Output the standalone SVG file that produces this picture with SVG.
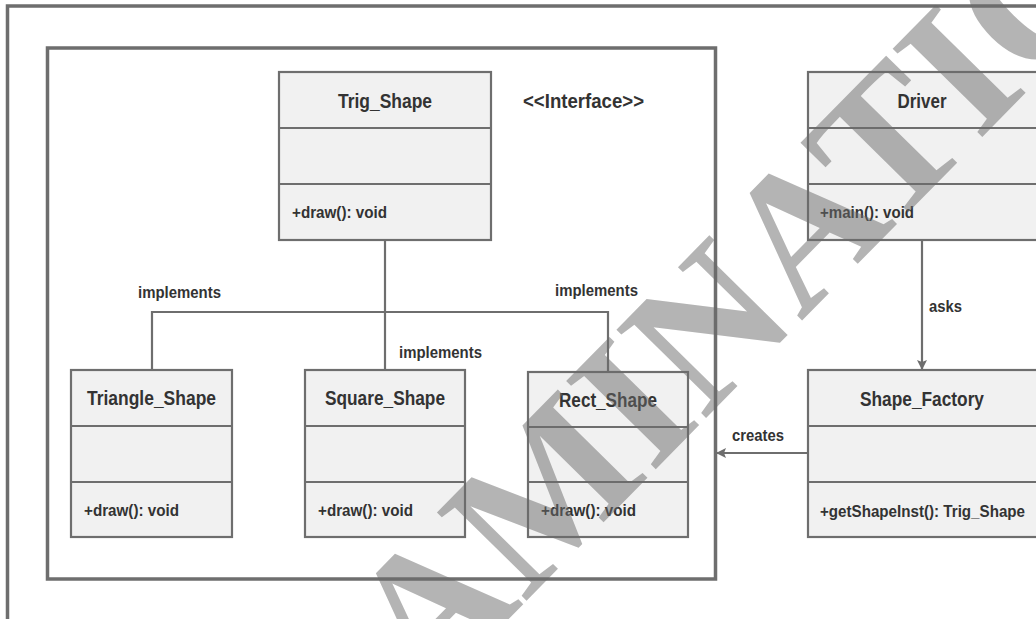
<svg xmlns="http://www.w3.org/2000/svg" width="1036" height="619" viewBox="0 0 1036 619">
<defs>
<style>
.frame{fill:none;stroke:#6e6e6e;stroke-width:3.5}
.box{fill:#f1f1f1;stroke:#6e6e6e;stroke-width:2.2}
.div{stroke:#6e6e6e;stroke-width:2.2}
.t{font-family:"Liberation Sans",Arial,sans-serif;font-weight:bold;fill:#333333}
.title{font-size:19.5px}
.m{font-size:16px}
.lbl{font-size:16px}
.conn{fill:none;stroke:#6e6e6e;stroke-width:2.2}
.wm{font-family:"Liberation Serif","Times New Roman",serif;font-weight:bold;font-size:192px;fill:#6a6a6a;fill-opacity:0.5}
</style>
<marker id="arr" viewBox="0 0 10 10" refX="9" refY="5" markerWidth="10" markerHeight="10" markerUnits="userSpaceOnUse" orient="auto">
<path d="M0,0 L10,5 L0,10 L2,5 Z" fill="#6e6e6e"/>
</marker>
</defs>
<rect width="1036" height="619" fill="#ffffff"/>
<g id="outer-frame"><rect class="frame" x="7.5" y="6" width="1060" height="700"/></g>
<g id="interface-frame"><rect class="frame" x="47.5" y="48" width="668" height="531"/>
<text class="t title" x="523" y="108" textLength="121" lengthAdjust="spacingAndGlyphs">&lt;&lt;Interface&gt;&gt;</text></g>

<g id="connectors">
<path class="conn" d="M385,240 V370"/>
<path class="conn" d="M152,370 V312 H608 V372"/>
<path class="conn" d="M922,240 V369" marker-end="url(#arr)"/>
<path class="conn" d="M808,453 H717" marker-end="url(#arr)"/>
<text class="t lbl" x="138" y="298" textLength="83" lengthAdjust="spacingAndGlyphs">implements</text>
<text class="t lbl" x="555" y="296" textLength="83" lengthAdjust="spacingAndGlyphs">implements</text>
<text class="t lbl" x="399" y="358" textLength="83" lengthAdjust="spacingAndGlyphs">implements</text>
<text class="t lbl" x="929" y="312" textLength="33" lengthAdjust="spacingAndGlyphs">asks</text>
<text class="t lbl" x="732" y="441" textLength="52" lengthAdjust="spacingAndGlyphs">creates</text>
</g>

<g id="trig-shape">
<rect class="box" x="279" y="72" width="212" height="168"/>
<line class="div" x1="279" y1="128" x2="491" y2="128"/>
<line class="div" x1="279" y1="184" x2="491" y2="184"/>
<text class="t title" x="385" y="108" text-anchor="middle" textLength="94" lengthAdjust="spacingAndGlyphs">Trig_Shape</text>
<text class="t m" x="292" y="218" textLength="95" lengthAdjust="spacingAndGlyphs">+draw(): void</text>
</g>

<g id="driver">
<rect class="box" x="808" y="72" width="232" height="168"/>
<line class="div" x1="808" y1="128" x2="1040" y2="128"/>
<line class="div" x1="808" y1="184" x2="1040" y2="184"/>
<text class="t title" x="922" y="108" text-anchor="middle" textLength="49" lengthAdjust="spacingAndGlyphs">Driver</text>
<text class="t m" x="820" y="218" textLength="94" lengthAdjust="spacingAndGlyphs">+main(): void</text>
</g>

<g id="triangle-shape">
<rect class="box" x="71" y="370" width="161" height="167"/>
<line class="div" x1="71" y1="426" x2="232" y2="426"/>
<line class="div" x1="71" y1="482" x2="232" y2="482"/>
<text class="t title" x="151.5" y="405" text-anchor="middle" textLength="129" lengthAdjust="spacingAndGlyphs">Triangle_Shape</text>
<text class="t m" x="84" y="516" textLength="95" lengthAdjust="spacingAndGlyphs">+draw(): void</text>
</g>

<g id="square-shape">
<rect class="box" x="305" y="370" width="160" height="167"/>
<line class="div" x1="305" y1="426" x2="465" y2="426"/>
<line class="div" x1="305" y1="482" x2="465" y2="482"/>
<text class="t title" x="385" y="405" text-anchor="middle" textLength="120" lengthAdjust="spacingAndGlyphs">Square_Shape</text>
<text class="t m" x="318" y="516" textLength="95" lengthAdjust="spacingAndGlyphs">+draw(): void</text>
</g>

<g id="rect-shape">
<rect class="box" x="528" y="372" width="160" height="165"/>
<line class="div" x1="528" y1="427" x2="688" y2="427"/>
<line class="div" x1="528" y1="482" x2="688" y2="482"/>
<text class="t title" x="608" y="407" text-anchor="middle" textLength="98" lengthAdjust="spacingAndGlyphs">Rect_Shape</text>
<text class="t m" x="541" y="516" textLength="95" lengthAdjust="spacingAndGlyphs">+draw(): void</text>
</g>

<g id="shape-factory">
<rect class="box" x="808" y="370" width="232" height="167"/>
<line class="div" x1="808" y1="426" x2="1040" y2="426"/>
<line class="div" x1="808" y1="482" x2="1040" y2="482"/>
<text class="t title" x="922" y="406" text-anchor="middle" textLength="124" lengthAdjust="spacingAndGlyphs">Shape_Factory</text>
<text class="t m" x="820" y="517" textLength="205" lengthAdjust="spacingAndGlyphs">+getShapeInst(): Trig_Shape</text>
</g>

<g id="watermark">
<text class="wm" transform="translate(427,702) rotate(-45.5)">AMINATIO</text>
</g>
</svg>
